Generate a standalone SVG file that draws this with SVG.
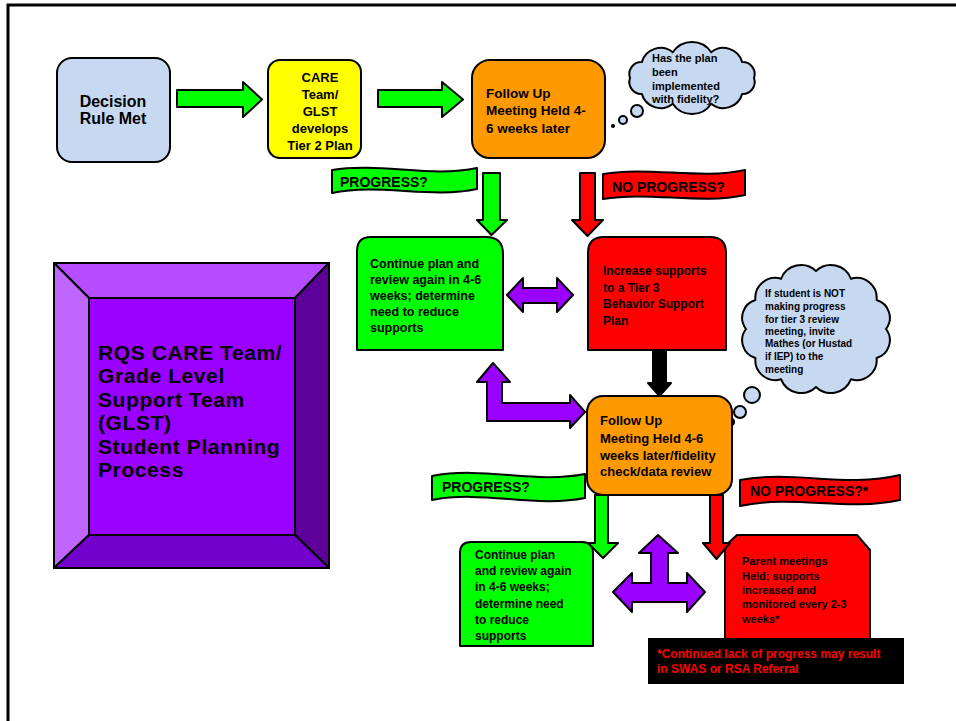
<svg xmlns="http://www.w3.org/2000/svg" width="956" height="721" viewBox="0 0 956 721">
<style>
.s{stroke:#000;stroke-width:2;stroke-linejoin:round}
.t{font-family:"Liberation Sans",Arial,sans-serif;font-weight:bold;fill:#000}
.g{fill:#00ff00}.r{fill:#ff0000}.o{fill:#ff9900}.b{fill:#c6d9f1}.p{fill:#9900ff}
</style>
<rect width="956" height="721" fill="#fff"/>
<path d="M8,721 L8,5 L956,5" fill="none" stroke="#000" stroke-width="3"/>

<g id="title">
<rect x="54" y="263" width="275" height="305" class="p" stroke="#000" stroke-width="2"/>
<polygon points="54,263 329,263 295,298 89,298" fill="#b34dff" class="s"/>
<polygon points="54,263 89,298 89,535 54,568" fill="#bf66ff" class="s"/>
<polygon points="329,263 329,568 295,535 295,298" fill="#5c0099" class="s"/>
<polygon points="54,568 89,535 295,535 329,568" fill="#7300cc" class="s"/>
<rect x="89" y="298" width="206" height="237" class="p s"/>
<text class="t" font-size="21" letter-spacing="0.6"><tspan x="98" y="360">RQS CARE Team/</tspan><tspan x="98" y="383.4">Grade Level</tspan><tspan x="98" y="406.8">Support Team</tspan><tspan x="98" y="430.2">(GLST)</tspan><tspan x="98" y="453.6">Student Planning</tspan><tspan x="98" y="477">Process</tspan></text>
</g>

<g id="decision">
<rect x="57" y="58" width="113" height="104" rx="15" class="b s"/>
<text class="t" font-size="16" text-anchor="middle"><tspan x="113" y="107">Decision</tspan><tspan x="113" y="124">Rule Met</tspan></text>
</g>

<g id="care">
<rect x="268" y="60" width="93" height="98" rx="12" fill="#ffff00" class="s"/>
<text class="t" font-size="13" text-anchor="middle"><tspan x="320" y="82">CARE</tspan><tspan x="320" y="99">Team/</tspan><tspan x="320" y="116">GLST</tspan><tspan x="320" y="133">develops</tspan><tspan x="320" y="150">Tier 2 Plan</tspan></text>
</g>

<g id="followup1">
<rect x="472" y="60" width="133" height="98" rx="18" class="o s"/>
<text class="t" font-size="13.5"><tspan x="486" y="98">Follow Up</tspan><tspan x="486" y="115">Meeting Held 4-</tspan><tspan x="486" y="133">6 weeks later</tspan></text>
</g>

<g id="cloud1">
<path d="M754,78 A12,12 0 0 1 742.2,93.9 A19.5,19.5 0 0 1 711.2,103.7 A23,23 0 0 1 672.8,103.7 A19.5,19.5 0 0 1 641.8,93.9 A12,12 0 0 1 630,78 A12,12 0 0 1 641.8,62.1 A19.5,19.5 0 0 1 672.8,52.3 A23,23 0 0 1 711.2,52.3 A19.5,19.5 0 0 1 742.2,62.1 A12,12 0 0 1 754,78 Z" class="b s"/>
<circle cx="637" cy="111" r="6" class="b s"/>
<circle cx="623" cy="120" r="4" class="b s"/>
<circle cx="613" cy="126" r="2" fill="#000"/>
<text class="t" font-size="11"><tspan x="652" y="62">Has the plan</tspan><tspan x="652" y="76">been</tspan><tspan x="652" y="90">implemented</tspan><tspan x="652" y="103">with fidelity?</tspan></text>
</g>

<g id="progress1">
<path d="M332,170 C380,162 430,178 477,168 L477,189 C430,199 380,183 332,193 Z" class="g s"/>
<text class="t" font-size="14" x="340" y="187">PROGRESS?</text>
</g>

<g id="noprogress1">
<path d="M603,174 C650,166 700,180 745,170 L745,195 C700,205 650,191 603,199 Z" class="r s"/>
<text class="t" font-size="14" x="612" y="192">NO PROGRESS?</text>
</g>

<g id="continue1">
<path d="M357,350 L357,251 Q357,237 371,237 L486,237 Q503,237 503,254 L503,350 Z" class="g s"/>
<text class="t" font-size="12.5"><tspan x="370" y="268">Continue plan and</tspan><tspan x="370" y="284">review again in 4-6</tspan><tspan x="370" y="300">weeks; determine</tspan><tspan x="370" y="316">need to reduce</tspan><tspan x="370" y="332">supports</tspan></text>
</g>

<g id="increase">
<path d="M588,350 L588,253 Q588,237 604,237 L710,237 Q726,237 726,253 L726,350 Z" class="r s"/>
<text class="t" font-size="12"><tspan x="603" y="275">Increase supports</tspan><tspan x="603" y="292">to a Tier 3</tspan><tspan x="603" y="308">Behavior Support</tspan><tspan x="603" y="325">Plan</tspan></text>
</g>

<g id="cloud2">
<path d="M886,329 A18.5,18.5 0 0 1 876.6,358 A20,20 0 0 1 851,379.2 A21.5,21.5 0 0 1 816,387 A21.5,21.5 0 0 1 781,379.2 A20,20 0 0 1 755.4,358 A18.5,18.5 0 0 1 746,329 A18.5,18.5 0 0 1 755.4,300 A20,20 0 0 1 781,278.8 A21.5,21.5 0 0 1 816,271 A21.5,21.5 0 0 1 851,278.8 A20,20 0 0 1 876.6,300 A18.5,18.5 0 0 1 886,329 Z" class="b s"/>
<circle cx="752" cy="395" r="8" class="b s"/>
<circle cx="740" cy="412" r="6" class="b s"/>
<circle cx="731" cy="422" r="3" class="b s"/>
<text class="t" font-size="10"><tspan x="765" y="297">If student is NOT</tspan><tspan x="765" y="310">making progress</tspan><tspan x="765" y="323">for tier 3 review</tspan><tspan x="765" y="335">meeting, invite</tspan><tspan x="765" y="347">Mathes (or Hustad</tspan><tspan x="765" y="360">if IEP) to the</tspan><tspan x="765" y="373">meeting</tspan></text>
</g>

<g id="followup2">
<rect x="587" y="396" width="145" height="99" rx="16" class="o s"/>
<text class="t" font-size="13"><tspan x="600" y="425">Follow Up</tspan><tspan x="600" y="443">Meeting Held 4-6</tspan><tspan x="600" y="460">weeks later/fidelity</tspan><tspan x="600" y="476">check/data review</tspan></text>
</g>

<g id="progress2">
<path d="M432,476 C483,466 535,484 585,474 L585,498 C535,508 483,490 432,500 Z" class="g s"/>
<text class="t" font-size="14" x="442" y="492">PROGRESS?</text>
</g>

<g id="noprogress2">
<path d="M740,480 C795,470 845,488 900,475 L900,500 C845,512 795,494 740,506 Z" class="r s"/>
<text class="t" font-size="14" x="750" y="496">NO PROGRESS?*</text>
</g>

<g id="continue2">
<path d="M460,646 L460,553 Q460,542 471,542 L582,542 Q593,542 593,553 L593,646 Z" class="g s"/>
<text class="t" font-size="12"><tspan x="475" y="559">Continue plan</tspan><tspan x="475" y="575">and review again</tspan><tspan x="475" y="591">in 4-6 weeks;</tspan><tspan x="475" y="608">determine need</tspan><tspan x="475" y="624">to reduce</tspan><tspan x="475" y="640">supports</tspan></text>
</g>

<g id="parent">
<path d="M725,646 L725,546 L737,535 L857,535 L870,550 L870,646 Z" class="r s"/>
<text class="t" font-size="11"><tspan x="742" y="565">Parent meetings</tspan><tspan x="742" y="580">Held; supports</tspan><tspan x="742" y="594">increased and</tspan><tspan x="742" y="608">monitored every 2-3</tspan><tspan x="742" y="623">weeks*</tspan></text>
</g>

<g id="note">
<rect x="648" y="638" width="256" height="46" fill="#000"/>
<text class="t" font-size="12" style="fill:#ff0000"><tspan x="657" y="658">*Continued lack of progress may result</tspan><tspan x="657" y="673">in SWAS or RSA Referral</tspan></text>
</g>

<g id="connectors">
<path d="M177,90 L243,90 L243,82 L262,99.5 L243,117 L243,107 L177,107 Z" class="g s"/>
<path d="M378,90 L442,90 L442,82 L463,99.5 L442,117 L442,107 L378,107 Z" class="g s"/>
<path d="M483,173 L500,173 L500,220 L507,220 L491.5,235 L477,220 L483,220 Z" class="g s"/>
<path d="M580,173 L595,173 L595,220 L603,220 L587.5,236 L572,220 L580,220 Z" class="r s"/>
<path d="M507,295 L523,278 L523,288 L557,288 L557,278 L573,295 L557,312 L557,303 L523,303 L523,312 Z" class="p s"/>
<path d="M653,350 L666,350 L666,383 L671,383 L659.5,396 L648,383 L653,383 Z" fill="#000" class="s"/>
<path d="M493,363 L510,382 L502,382 L502,403 L570,403 L570,395 L585,412 L570,428 L570,421 L487,421 L487,382 L477,382 Z" class="p s"/>
<path d="M595,495 L608,495 L608,543 L618,543 L603,558 L588,543 L595,543 Z" class="g s"/>
<path d="M710,495 L723,495 L723,543 L730,543 L716.5,559 L703,543 L710,543 Z" class="r s"/>
<path d="M658,535 L678,553 L668,553 L668,583 L687,583 L687,573 L705,592 L687,612 L687,602 L632,602 L632,612 L613,592 L632,573 L632,583 L651,583 L651,553 L639,553 Z" class="p s"/>
</g>
</svg>
